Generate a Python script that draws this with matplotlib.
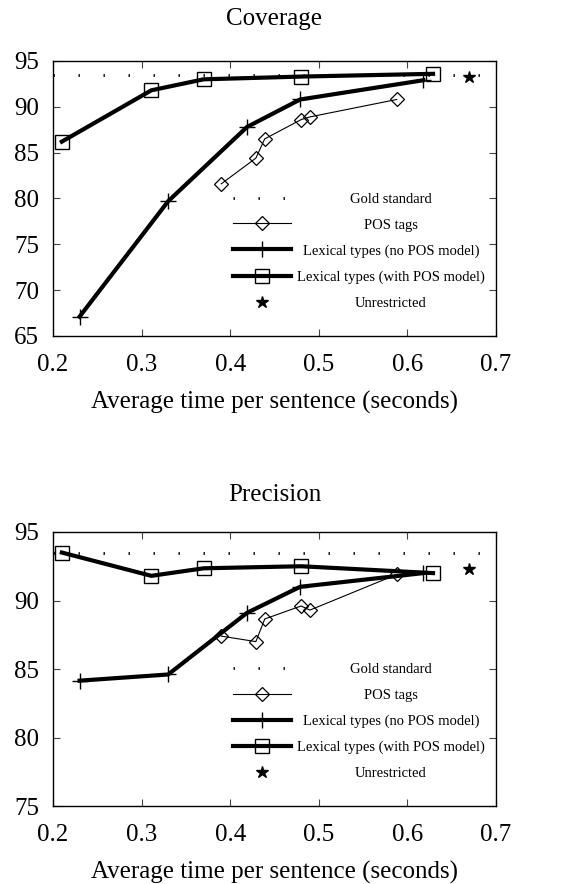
import matplotlib
matplotlib.use("Agg")
import matplotlib.pyplot as plt
import numpy as np

plt.rcParams['font.family'] = ['Liberation Serif', 'DejaVu Serif']
plt.rcParams['font.size'] = 18

# average time per sentence (seconds)
pos_x = [0.39, 0.429, 0.439, 0.48, 0.49, 0.588]
nopos_x = [0.23, 0.33, 0.419, 0.479, 0.618]
withpos_x = [0.21, 0.311, 0.37, 0.48, 0.629]
unres_x = [0.67]

# coverage (%)
cov_gold = 93.5
cov_pos = [81.6, 84.4, 86.5, 88.6, 88.9, 90.8]
cov_nopos = [67.1, 79.7, 87.8, 90.8, 92.9]
cov_withpos = [86.2, 91.8, 93.0, 93.3, 93.6]
cov_unres = [93.2]

# precision (%)
prec_gold = 93.5
prec_pos = [87.4, 87.0, 88.65, 89.6, 89.3, 91.9]
prec_nopos = [84.15, 84.6, 89.1, 91.0, 92.0]
prec_withpos = [93.5, 91.8, 92.35, 92.5, 92.0]
prec_unres = [92.3]

labels = ['Gold standard', 'POS tags', 'Lexical types (no POS model)',
          'Lexical types (with POS model)', 'Unrestricted']

fig = plt.figure(figsize=(5.73, 8.84), dpi=100)
ax1 = fig.add_axes([0.0925, 0.620, 0.773, 0.311])
ax2 = fig.add_axes([0.0925, 0.0882, 0.773, 0.310])


def draw_panel(ax, gold, pos, nopos, withpos, unres, ylim, title, title_pad, xlab_pad):
    h_gold = ax.axhline(gold, color='black', lw=2.0, ls=(0, (0.5, 8.5)),
                        dash_capstyle='butt')
    h_pos, = ax.plot(pos_x, pos, color='black', lw=0.8, marker='D', ms=7.5,
                     mfc='none', mew=0.9)
    h_nopos, = ax.plot(nopos_x, nopos, color='black', lw=3.0, marker='+', ms=12,
                       mew=1.0)
    h_with, = ax.plot(withpos_x, withpos, color='black', lw=3.0, marker='s', ms=9.5,
                      mfc='none', mew=1.0)
    h_unres, = ax.plot(unres_x, unres, ls='none', color='black', marker='*', ms=9)

    ax.set_xlim(0.2, 0.7)
    ax.set_ylim(*ylim)
    ax.set_xticks(np.arange(0.2, 0.71, 0.1))
    ax.set_xticklabels(['0.2', '0.3', '0.4', '0.5', '0.6', '0.7'])
    ax.set_yticks(np.arange(ylim[0], ylim[1] + 1, 5))
    ax.tick_params(direction='in', top=True, right=True, length=5, width=0.8,
                   labelsize=18, color='#444444')
    ax.tick_params(axis='x', pad=13)
    ax.tick_params(axis='y', pad=10)
    for s in ax.spines.values():
        s.set_linewidth(1.0)
    ax.set_title(title, fontsize=18, pad=title_pad)
    ax.set_xlabel('Average time per sentence (seconds)', fontsize=18, labelpad=xlab_pad)

    leg = ax.legend([h_gold, h_pos, h_nopos, h_with, h_unres], labels,
                    loc='lower left', bbox_to_anchor=(0.406, 0.095),
                    frameon=False, fontsize=10.5, numpoints=1,
                    handlelength=4.0, handletextpad=0.4, labelspacing=0.87,
                    borderpad=0, borderaxespad=0)
    return leg


leg1 = draw_panel(ax1, cov_gold, cov_pos, cov_nopos, cov_withpos, cov_unres,
                  (65, 95), 'Coverage', 26, 11)
leg2 = draw_panel(ax2, prec_gold, prec_pos, prec_nopos, prec_withpos, prec_unres,
                  (75, 95), 'Precision', 22, 11)

# centre the legend labels like gnuplot does
fig.canvas.draw()
renderer = fig.canvas.get_renderer()
for leg in (leg1, leg2):
    texts = leg.get_texts()
    widths = [t.get_window_extent(renderer).width for t in texts]
    wmax = max(widths)
    for t, w in zip(texts, widths):
        t.set_x((wmax - w) / 2.0)

fig.savefig('out.png', dpi=100)
